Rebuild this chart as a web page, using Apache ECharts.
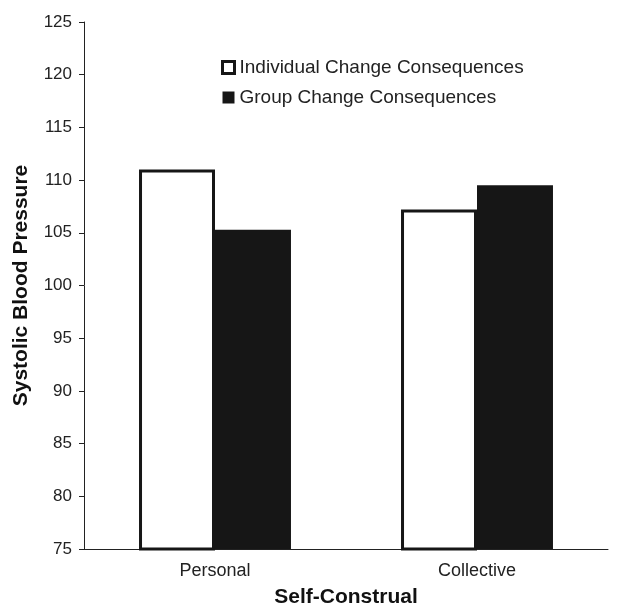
<!DOCTYPE html>
<html>
<head>
<meta charset="utf-8">
<script src="https://cdn.jsdelivr.net/npm/echarts@6/dist/echarts.min.js"></script>
<style>html,body{margin:0;padding:0;background:#fff}#c{width:622px;height:606px}</style>
</head>
<body>
<div id="c"></div>
<script>
var categories = ['Personal', 'Collective'];
var individualValues = [111.0, 107.2];
var groupValues = [105.3, 109.5];
var yTicks = [75, 125, 5];

var chart = echarts.init(document.getElementById('c'));
var font = 'Liberation Sans, Arial, sans-serif';
chart.setOption({
  animation: false,
  textStyle: { fontFamily: font },
  grid: { left: 84, top: 22, right: 14, bottom: 57, containLabel: false, outerBoundsMode: 'none' },
  legend: {
    orient: 'vertical',
    left: 216,
    top: 53,
    itemGap: 11,
    itemWidth: 12,
    itemHeight: 12,
    itemTextGap: 7,
    textStyle: { fontSize: 19, color: '#222', fontFamily: font },
    data: [
      { name: 'Individual Change Consequences', icon: 'rect', itemStyle: { color: '#fff', borderColor: '#161616', borderWidth: 3 } },
      { name: 'Group Change Consequences', icon: 'rect', itemStyle: { color: '#161616' } }
    ]
  },
  xAxis: {
    type: 'category',
    data: categories,
    name: 'Self-Construal',
    nameLocation: 'middle',
    nameGap: 38,
    nameTextStyle: { fontSize: 21, fontWeight: 'bold', color: '#111', fontFamily: font },
    axisLine: { lineStyle: { color: '#222', width: 1 } },
    axisTick: { length: 5, lineStyle: { color: '#222' } },
    axisLabel: { fontSize: 18, color: '#222', margin: 13 }
  },
  yAxis: {
    type: 'value',
    min: yTicks[0],
    max: yTicks[1],
    interval: yTicks[2],
    name: 'Systolic Blood Pressure',
    nameLocation: 'middle',
    nameGap: 52,
    nameTextStyle: { fontSize: 21, fontWeight: 'bold', color: '#111', fontFamily: font },
    axisLine: { show: true, lineStyle: { color: '#222', width: 1 } },
    axisTick: { show: true, length: 5, lineStyle: { color: '#222' } },
    axisLabel: { fontSize: 17, color: '#222', margin: 12 },
    splitLine: { show: false }
  },
  series: [
    {
      name: 'Individual Change Consequences',
      type: 'bar',
      data: individualValues,
      barGap: '0%',
      barCategoryGap: '42%',
      itemStyle: { color: '#fff', borderColor: '#161616', borderWidth: 3 }
    },
    {
      name: 'Group Change Consequences',
      type: 'bar',
      data: groupValues,
      itemStyle: { color: '#161616' }
    }
  ]
});
</script>
</body>
</html>
